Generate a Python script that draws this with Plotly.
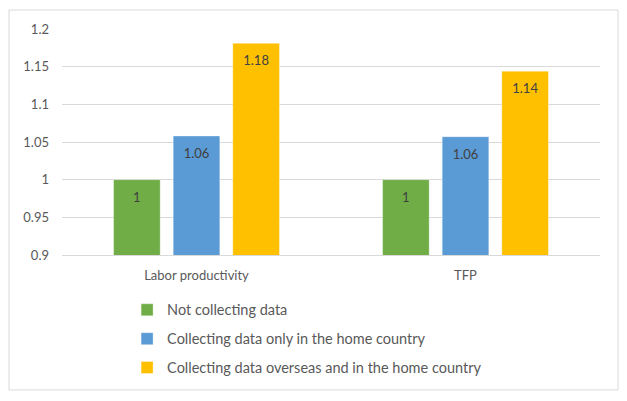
import plotly.graph_objects as go

# categories and series
categories = ["Labor productivity", "TFP"]
series_names = [
    "Not collecting data",
    "Collecting data only in the home country",
    "Collecting data overseas and in the home country",
]
not_collecting = [1.0, 1.0]
home_only = [1.058, 1.057]
overseas_and_home = [1.181, 1.144]
label_text = [["1", "1"], ["1.06", "1.06"], ["1.18", "1.14"]]
colors = ["#70AD47", "#5B9BD5", "#FFC000"]

FONT = "Lato"
GRID = "#D9D9D9"

fig = go.Figure()
for i, (name, vals) in enumerate(zip(series_names, [not_collecting, home_only, overseas_and_home])):
  fig.add_trace(go.Bar(
    x=categories,
    y=vals,
    name=name,
    legendgroup=f"g{i}",
    offsetgroup=str(i),
    marker=dict(color=colors[i], line=dict(color="rgba(255,255,255,0.35)", width=1)),
    hoverinfo="skip",
  ))

# data labels sit just inside the top of each bar
for i, vals in enumerate([not_collecting, home_only, overseas_and_home]):
  fig.add_trace(go.Scatter(
    x=categories,
    y=vals,
    mode="markers+text",
    offsetgroup=str(i),
    text=label_text[i],
    textposition="bottom center",
    marker=dict(size=18, opacity=0),
    textfont=dict(family=FONT, size=13, color="#404040"),
    showlegend=False,
    hoverinfo="skip",
  ))

fig.update_layout(
  width=611,
  height=385,
  margin=dict(l=54, r=19, t=21, b=138, autoexpand=False),
  paper_bgcolor="white",
  plot_bgcolor="white",
  barmode="group",
  bargap=0.335,
  bargroupgap=0.218,
  scattermode="group",
  scattergap=0.335,
  font=dict(family=FONT, size=13, color="#595959"),
  showlegend=True,
  legend=dict(
    orientation="v",
    x=0.121,
    xanchor="left",
    y=-0.172,
    yanchor="top",
    tracegroupgap=7,
    font=dict(family=FONT, size=14.5, color="#595959"),
    bgcolor="rgba(0,0,0,0)",
  ),
  xaxis=dict(
    showline=True,
    linecolor=GRID,
    linewidth=1,
    showgrid=False,
    ticks="",
    ticklabelstandoff=8,
  ),
  yaxis=dict(
    range=[0.9, 1.2],
    dtick=0.05,
    tick0=0.9,
    showgrid=True,
    gridcolor=GRID,
    gridwidth=1,
    zeroline=False,
    showline=False,
    ticks="",
    ticklabelstandoff=12,
  ),
  shapes=[dict(
    type="rect",
    xref="paper",
    yref="paper",
    x0=-0.0985,
    x1=1.0335,
    y0=-0.597,
    y1=1.084,
    line=dict(color=GRID, width=1),
    fillcolor="rgba(0,0,0,0)",
    layer="below",
  )],
)

fig.write_html("out.html")
